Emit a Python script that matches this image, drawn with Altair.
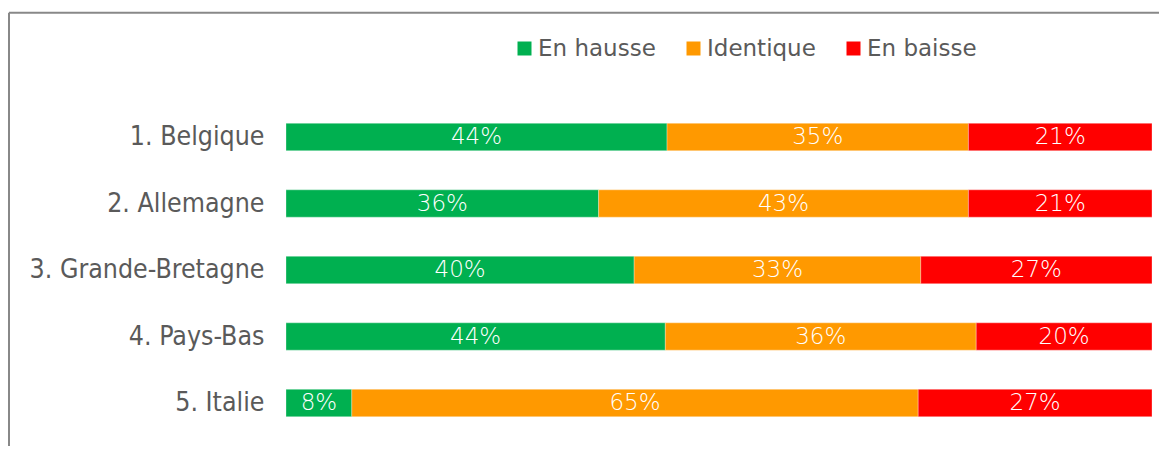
import altair as alt
import pandas as pd

countries = ["1. Belgique", "2. Allemagne", "3. Grande-Bretagne", "4. Pays-Bas", "5. Italie"]
categories = ["En hausse", "Identique", "En baisse"]
colors = ["#00B050", "#FF9900", "#FF0000"]
en_hausse = [44.0, 36.1, 40.2, 43.8, 7.6]
identique = [34.8, 42.7, 33.1, 35.9, 65.4]
en_baisse = [21.2, 21.2, 26.7, 20.3, 27.0]

rows = []
for i, c in enumerate(countries):
    for j, (cat, vals) in enumerate(zip(categories, [en_hausse, identique, en_baisse])):
        rows.append({"pays": c, "cat": cat, "ordre": j, "v": vals[i]})
df = pd.DataFrame(rows)

FONT_C = "DejaVu Sans Condensed"
FONT = "DejaVu Sans"
W, H = 866, 332.5

base = alt.Chart(df).transform_stack(
    stack="v", groupby=["pays"], as_=["x0", "x1"], offset="normalize",
    sort=[alt.SortField("ordre", order="ascending")]
).transform_calculate(
    mid="(datum.x0 + datum.x1) / 2",
    lab="format(datum.v, '.0f') + '%'"
)

yenc = alt.Y("pays:N", sort=countries, title=None,
             scale=alt.Scale(paddingInner=0.59, paddingOuter=0.295),
             axis=alt.Axis(domain=False, ticks=False, labelFont=FONT_C, labelFontSize=26.5,
                           labelColor="#5a5a5a", labelPadding=22, labelLimit=0))

bars = base.mark_bar(stroke="#ffffff", strokeWidth=0.6, strokeOpacity=0.5).encode(
    x=alt.X("x0:Q", scale=alt.Scale(domain=[0, 1]), axis=None),
    x2="x1:Q",
    y=yenc,
    color=alt.Color("cat:N", sort=categories,
                    scale=alt.Scale(domain=categories, range=colors),
                    legend=alt.Legend(title=None, orient="none", direction="horizontal",
                                      legendX=227, legendY=-67,
                                      symbolType="square", symbolSize=196,
                                      symbolStrokeWidth=0, symbolOpacity=1,
                                      labelFont=FONT, labelFontSize=23, labelColor="#5a5a5a",
                                      labelFontWeight="normal", labelOffset=2,
                                      columnPadding=26, padding=0)),
)

texts = base.mark_text(color="white", font=FONT, fontSize=23, fontWeight=200,
                       baseline="middle", align="center").encode(
    x=alt.X("mid:Q", scale=alt.Scale(domain=[0, 1])),
    y=alt.Y("pays:N", sort=countries),
    text="lab:N",
)

frame_df = pd.DataFrame({"k": [0]})
left_line = alt.Chart(frame_df).mark_rule(color="#888888", strokeWidth=2).encode(
    x=alt.value(-277), y=alt.value(-91), y2=alt.value(400))
top_line = alt.Chart(frame_df).mark_rule(color="#888888", strokeWidth=2).encode(
    x=alt.value(-277), x2=alt.value(900), y=alt.value(-91))

chart = alt.layer(bars, texts, left_line, top_line).properties(
    width=W, height=H,
    autosize=alt.AutoSizeParams(type="none"),
    padding={"left": 278, "top": 95.75, "right": 7, "bottom": 10},
).configure_view(stroke=None)

chart.save("out.html", embed_options={"renderer": "svg", "actions": False})
